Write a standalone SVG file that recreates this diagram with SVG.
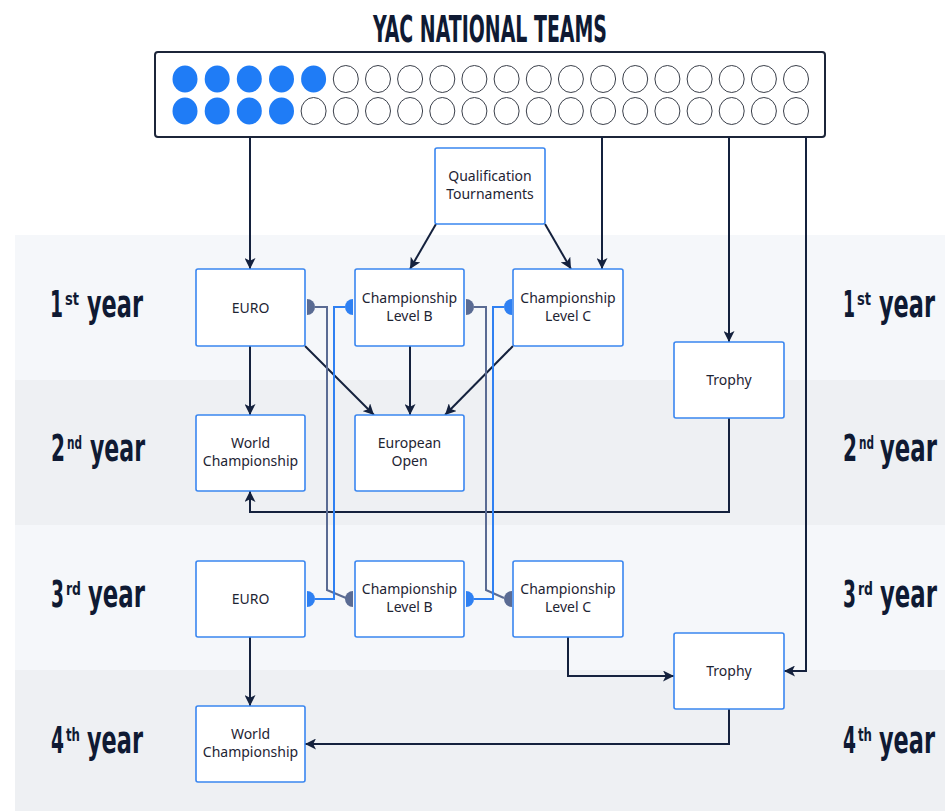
<svg xmlns="http://www.w3.org/2000/svg" width="945" height="811" viewBox="0 0 945 811">
<style>
.band1{fill:#f5f7fa}
.band2{fill:#eef0f3}
.node rect{fill:#ffffff;stroke:#3a86f0;stroke-width:1.6}
.node text{font-family:"Noto Sans","Open Sans",sans-serif;font-size:14px;fill:#1e2433;text-anchor:middle}
.yr{font-family:"DejaVu Sans Condensed","DejaVu Sans",sans-serif;font-weight:bold;fill:#0f1a33;font-size:28px}
.sup{font-size:13px}
.con{fill:none;stroke:#14213d;stroke-width:2}
.gray{fill:none;stroke:#5a6b93;stroke-width:2}
.blue{fill:none;stroke:#2f80f2;stroke-width:2}
.gdot{fill:#5a6b93}
.bdot{fill:#2f80f2}
.full{fill:#1f7cf6}
.empty{fill:#ffffff;stroke:#3a3f4a;stroke-width:1}
</style>
<defs>
<marker id="arr" viewBox="0 0 10 10" refX="10" refY="5" markerWidth="11" markerHeight="11" markerUnits="userSpaceOnUse" orient="auto">
<path d="M0,0 L10,5 L0,10 L2.5,5 Z" fill="#14213d"/>
</marker>
</defs>
<rect x="0" y="0" width="945" height="811" fill="#ffffff"/>
<g id="bands">
<rect class="band1" x="15" y="235" width="930" height="145"/>
<rect class="band2" x="15" y="380" width="930" height="145"/>
<rect class="band1" x="15" y="525" width="930" height="145"/>
<rect class="band2" x="15" y="670" width="930" height="141"/>
</g>
<text x="490" y="42" text-anchor="middle" font-family="DejaVu Sans Condensed,DejaVu Sans,sans-serif" font-weight="bold" font-size="38" fill="#0f1a33" textLength="234" lengthAdjust="spacingAndGlyphs">YAC NATIONAL TEAMS</text>
<g id="labels">
<text class="yr" transform="translate(50,317) scale(1,1.35)"><tspan x="0" y="0" textLength="13" lengthAdjust="spacingAndGlyphs">1</tspan><tspan class="sup" x="15" y="-9" textLength="14" lengthAdjust="spacingAndGlyphs">st</tspan><tspan x="37" y="0" textLength="56" lengthAdjust="spacingAndGlyphs">year</tspan></text>
<text class="yr" transform="translate(51,461) scale(1,1.35)"><tspan x="0" y="0" textLength="14" lengthAdjust="spacingAndGlyphs">2</tspan><tspan class="sup" x="16" y="-9" textLength="15" lengthAdjust="spacingAndGlyphs">nd</tspan><tspan x="39" y="0" textLength="55" lengthAdjust="spacingAndGlyphs">year</tspan></text>
<text class="yr" transform="translate(51,607) scale(1,1.35)"><tspan x="0" y="0" textLength="13" lengthAdjust="spacingAndGlyphs">3</tspan><tspan class="sup" x="15" y="-9" textLength="15" lengthAdjust="spacingAndGlyphs">rd</tspan><tspan x="37" y="0" textLength="57" lengthAdjust="spacingAndGlyphs">year</tspan></text>
<text class="yr" transform="translate(51,753) scale(1,1.35)"><tspan x="0" y="0" textLength="13" lengthAdjust="spacingAndGlyphs">4</tspan><tspan class="sup" x="15" y="-9" textLength="14" lengthAdjust="spacingAndGlyphs">th</tspan><tspan x="36" y="0" textLength="56" lengthAdjust="spacingAndGlyphs">year</tspan></text>
<text class="yr" transform="translate(843,317) scale(1,1.35)"><tspan x="0" y="0" textLength="12" lengthAdjust="spacingAndGlyphs">1</tspan><tspan class="sup" x="14" y="-9" textLength="14" lengthAdjust="spacingAndGlyphs">st</tspan><tspan x="36" y="0" textLength="56" lengthAdjust="spacingAndGlyphs">year</tspan></text>
<text class="yr" transform="translate(843,461) scale(1,1.35)"><tspan x="0" y="0" textLength="14" lengthAdjust="spacingAndGlyphs">2</tspan><tspan class="sup" x="16" y="-9" textLength="15" lengthAdjust="spacingAndGlyphs">nd</tspan><tspan x="37" y="0" textLength="57" lengthAdjust="spacingAndGlyphs">year</tspan></text>
<text class="yr" transform="translate(843,607) scale(1,1.35)"><tspan x="0" y="0" textLength="13" lengthAdjust="spacingAndGlyphs">3</tspan><tspan class="sup" x="15" y="-9" textLength="15" lengthAdjust="spacingAndGlyphs">rd</tspan><tspan x="37" y="0" textLength="57" lengthAdjust="spacingAndGlyphs">year</tspan></text>
<text class="yr" transform="translate(843,753) scale(1,1.35)"><tspan x="0" y="0" textLength="13" lengthAdjust="spacingAndGlyphs">4</tspan><tspan class="sup" x="15" y="-9" textLength="14" lengthAdjust="spacingAndGlyphs">th</tspan><tspan x="36" y="0" textLength="56" lengthAdjust="spacingAndGlyphs">year</tspan></text>
</g>
<g id="teams">
<rect x="155" y="52" width="670" height="85" rx="3" fill="#ffffff" stroke="#1c2539" stroke-width="2"/>
<ellipse class="full" cx="185" cy="79" rx="12.5" ry="13.5"/>
<ellipse class="full" cx="217.2" cy="79" rx="12.5" ry="13.5"/>
<ellipse class="full" cx="249.3" cy="79" rx="12.5" ry="13.5"/>
<ellipse class="full" cx="281.5" cy="79" rx="12.5" ry="13.5"/>
<ellipse class="full" cx="313.6" cy="79" rx="12.5" ry="13.5"/>
<ellipse class="empty" cx="345.8" cy="79" rx="12.5" ry="13.5"/>
<ellipse class="empty" cx="378" cy="79" rx="12.5" ry="13.5"/>
<ellipse class="empty" cx="410.1" cy="79" rx="12.5" ry="13.5"/>
<ellipse class="empty" cx="442.3" cy="79" rx="12.5" ry="13.5"/>
<ellipse class="empty" cx="474.4" cy="79" rx="12.5" ry="13.5"/>
<ellipse class="empty" cx="506.6" cy="79" rx="12.5" ry="13.5"/>
<ellipse class="empty" cx="538.8" cy="79" rx="12.5" ry="13.5"/>
<ellipse class="empty" cx="570.9" cy="79" rx="12.5" ry="13.5"/>
<ellipse class="empty" cx="603.1" cy="79" rx="12.5" ry="13.5"/>
<ellipse class="empty" cx="635.2" cy="79" rx="12.5" ry="13.5"/>
<ellipse class="empty" cx="667.4" cy="79" rx="12.5" ry="13.5"/>
<ellipse class="empty" cx="699.6" cy="79" rx="12.5" ry="13.5"/>
<ellipse class="empty" cx="731.7" cy="79" rx="12.5" ry="13.5"/>
<ellipse class="empty" cx="763.9" cy="79" rx="12.5" ry="13.5"/>
<ellipse class="empty" cx="796" cy="79" rx="12.5" ry="13.5"/>
<ellipse class="full" cx="185" cy="111" rx="12.5" ry="13.5"/>
<ellipse class="full" cx="217.2" cy="111" rx="12.5" ry="13.5"/>
<ellipse class="full" cx="249.3" cy="111" rx="12.5" ry="13.5"/>
<ellipse class="full" cx="281.5" cy="111" rx="12.5" ry="13.5"/>
<ellipse class="empty" cx="313.6" cy="111" rx="12.5" ry="13.5"/>
<ellipse class="empty" cx="345.8" cy="111" rx="12.5" ry="13.5"/>
<ellipse class="empty" cx="378" cy="111" rx="12.5" ry="13.5"/>
<ellipse class="empty" cx="410.1" cy="111" rx="12.5" ry="13.5"/>
<ellipse class="empty" cx="442.3" cy="111" rx="12.5" ry="13.5"/>
<ellipse class="empty" cx="474.4" cy="111" rx="12.5" ry="13.5"/>
<ellipse class="empty" cx="506.6" cy="111" rx="12.5" ry="13.5"/>
<ellipse class="empty" cx="538.8" cy="111" rx="12.5" ry="13.5"/>
<ellipse class="empty" cx="570.9" cy="111" rx="12.5" ry="13.5"/>
<ellipse class="empty" cx="603.1" cy="111" rx="12.5" ry="13.5"/>
<ellipse class="empty" cx="635.2" cy="111" rx="12.5" ry="13.5"/>
<ellipse class="empty" cx="667.4" cy="111" rx="12.5" ry="13.5"/>
<ellipse class="empty" cx="699.6" cy="111" rx="12.5" ry="13.5"/>
<ellipse class="empty" cx="731.7" cy="111" rx="12.5" ry="13.5"/>
<ellipse class="empty" cx="763.9" cy="111" rx="12.5" ry="13.5"/>
<ellipse class="empty" cx="796" cy="111" rx="12.5" ry="13.5"/>
</g>
<g id="connectors">
<path class="con" d="M250,137 V269" marker-end="url(#arr)"/>
<path class="con" d="M602,137 V269" marker-end="url(#arr)"/>
<path class="con" d="M729,137 V342" marker-end="url(#arr)"/>
<path class="con" d="M806,137 V671 H784" marker-end="url(#arr)"/>
<path class="con" d="M436,224 L410,269" marker-end="url(#arr)"/>
<path class="con" d="M545,224 L571,269" marker-end="url(#arr)"/>
<path class="con" d="M250,346 V415" marker-end="url(#arr)"/>
<path class="con" d="M305,346 L374,415" marker-end="url(#arr)"/>
<path class="con" d="M410,346 V415" marker-end="url(#arr)"/>
<path class="con" d="M513,346 L445,415" marker-end="url(#arr)"/>
<path class="con" d="M729,418 V512 H250 V491" marker-end="url(#arr)"/>
<path class="con" d="M250,637 V706" marker-end="url(#arr)"/>
<path class="con" d="M568,637 V676 H674" marker-end="url(#arr)"/>
<path class="con" d="M729,709 V744 H305" marker-end="url(#arr)"/>
<path class="gray" d="M315,307 H327 V590 L346,598"/>
<path class="blue" d="M345,307 H334 V599 H315"/>
<path class="gray" d="M474,307 H486 V590 L504,598"/>
<path class="blue" d="M504,307 H493 V599 H474"/>
<path class="gdot" d="M307,299 A8,8 0 0 1 307,315 Z"/>
<path class="bdot" d="M353,299 A8,8 0 0 0 353,315 Z"/>
<path class="gdot" d="M466,299 A8,8 0 0 1 466,315 Z"/>
<path class="bdot" d="M512,299 A8,8 0 0 0 512,315 Z"/>
<path class="bdot" d="M307,591 A8,8 0 0 1 307,607 Z"/>
<path class="gdot" d="M353,591 A8,8 0 0 0 353,607 Z"/>
<path class="bdot" d="M466,591 A8,8 0 0 1 466,607 Z"/>
<path class="gdot" d="M512,591 A8,8 0 0 0 512,607 Z"/>
</g>
<g id="qual" class="node"><rect x="435" y="148" width="110" height="76" rx="2"/><text x="490" y="181">Qualification</text><text x="490" y="199">Tournaments</text></g>
<g id="euro1" class="node"><rect x="196" y="269" width="109" height="77" rx="2"/><text x="250.5" y="312.5">EURO</text></g>
<g id="champb1" class="node"><rect x="355" y="269" width="109" height="77" rx="2"/><text x="409.5" y="303">Championship</text><text x="409.5" y="321">Level B</text></g>
<g id="champc1" class="node"><rect x="513" y="269" width="110" height="77" rx="2"/><text x="568" y="303">Championship</text><text x="568" y="321">Level C</text></g>
<g id="trophy1" class="node"><rect x="674" y="342" width="110" height="76" rx="2"/><text x="729" y="385">Trophy</text></g>
<g id="world2" class="node"><rect x="196" y="415" width="109" height="76" rx="2"/><text x="250.5" y="448">World</text><text x="250.5" y="466">Championship</text></g>
<g id="euopen" class="node"><rect x="355" y="415" width="109" height="76" rx="2"/><text x="409.5" y="448">European</text><text x="409.5" y="466">Open</text></g>
<g id="euro3" class="node"><rect x="196" y="561" width="109" height="76" rx="2"/><text x="250.5" y="604">EURO</text></g>
<g id="champb3" class="node"><rect x="355" y="561" width="109" height="76" rx="2"/><text x="409.5" y="594">Championship</text><text x="409.5" y="612">Level B</text></g>
<g id="champc3" class="node"><rect x="513" y="561" width="110" height="76" rx="2"/><text x="568" y="594">Championship</text><text x="568" y="612">Level C</text></g>
<g id="trophy3" class="node"><rect x="674" y="633" width="110" height="76" rx="2"/><text x="729" y="676">Trophy</text></g>
<g id="world4" class="node"><rect x="196" y="706" width="109" height="76" rx="2"/><text x="250.5" y="739">World</text><text x="250.5" y="757">Championship</text></g>
</svg>
